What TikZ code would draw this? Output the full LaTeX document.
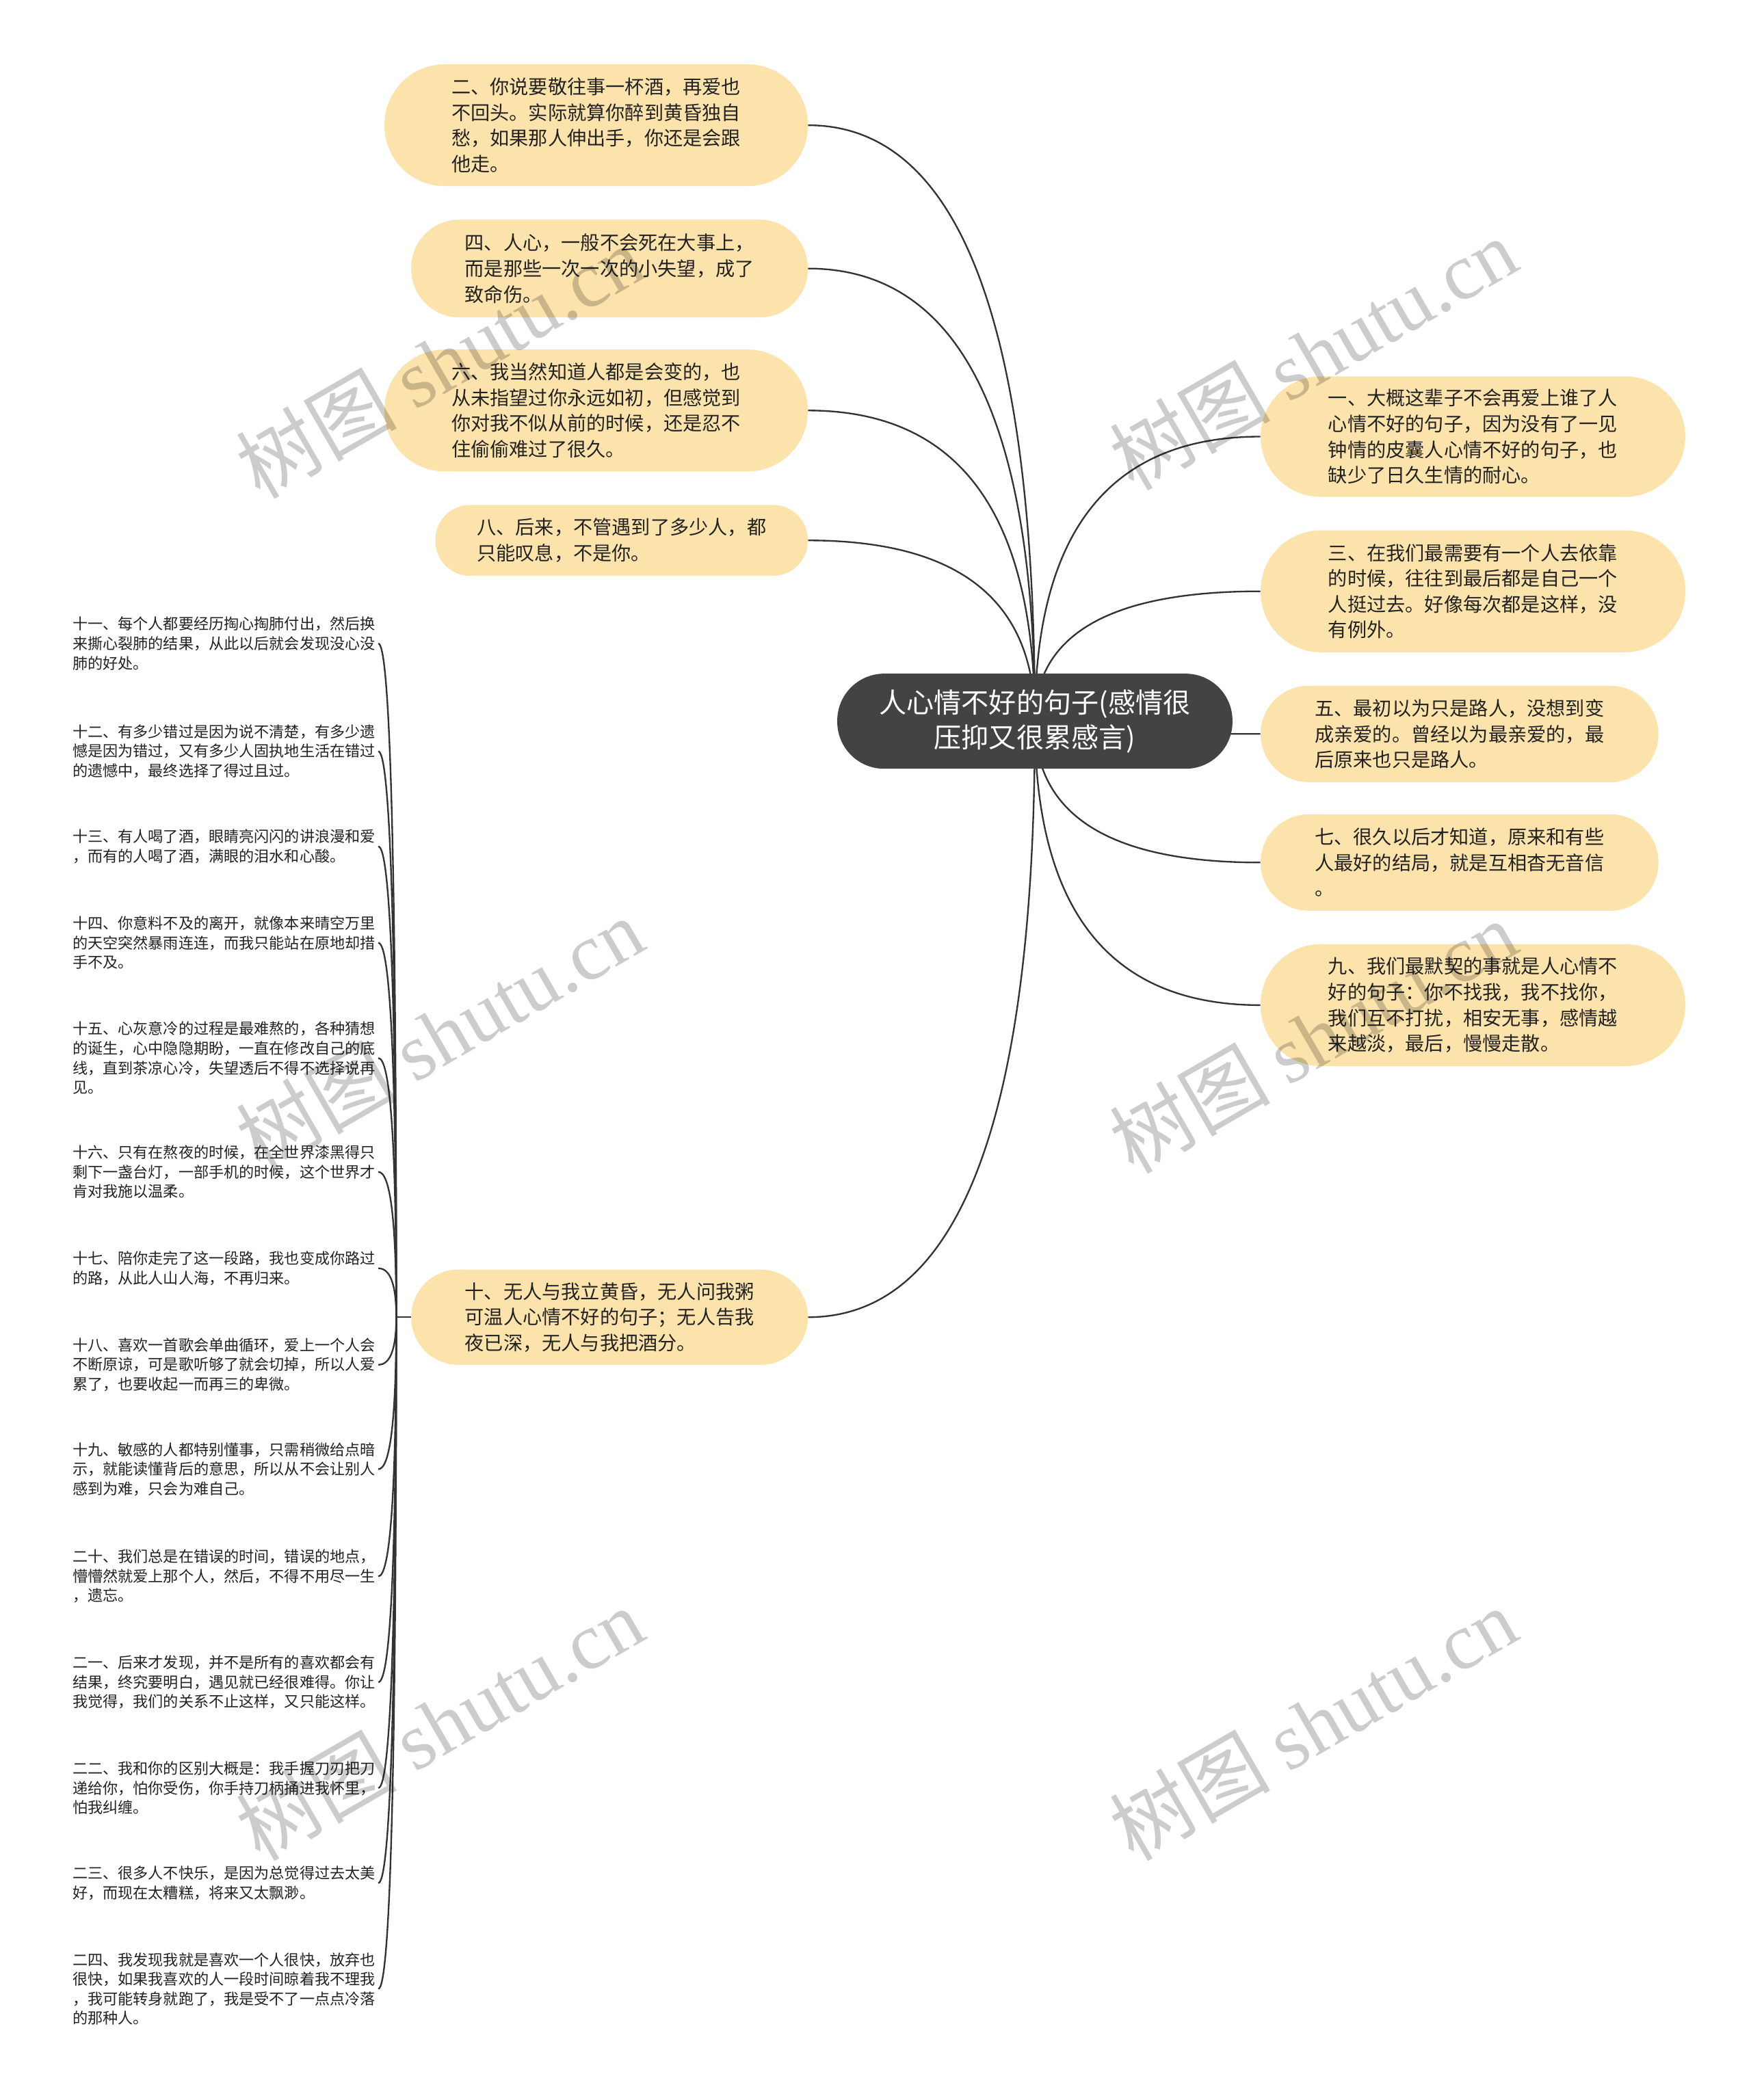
\documentclass[tikz,border=0pt]{standalone}
\usepackage{fontspec}
\setmainfont{Noto Sans CJK SC}
\newfontfamily\wmserif{Liberation Serif}
\usetikzlibrary{backgrounds,calc}
\definecolor{nodefill}{HTML}{FCE3AB}
\definecolor{rootfill}{HTML}{434343}
\definecolor{linecol}{HTML}{333333}
\definecolor{txt}{HTML}{222222}
\begin{document}
\begin{tikzpicture}[x=1pt,y=-1pt,
  bignode/.style={fill=nodefill, text=txt, inner sep=0pt, align=left, font=\fontsize{14.4pt}{19.2pt}\selectfont},
  rootnode/.style={fill=rootfill, text=white, inner sep=0pt, align=center, minimum width=295pt, minimum height=71pt, rounded corners=35pt, font=\fontsize{20.5pt}{26pt}\selectfont},
  smallnode/.style={text=txt, inner xsep=2pt, inner ysep=0pt, text width=226pt, align=left, anchor=west, font=\fontsize{11.3pt}{14.6pt}\selectfont},
  conn/.style={draw=linecol, line width=1.2pt},
  wm/.style={text=black, text opacity=0.2, rotate=30, inner sep=0pt, font=\fontsize{60pt}{60pt}\selectfont}
]
\useasboundingbox (0,0) rectangle (1307,1568);
\begin{pgfonlayer}{background}
\fill[white] (0,0) rectangle (1307,1568);
\end{pgfonlayer}

% root
\node[rootnode] (root) at (772.5,538.5) {人心情不好的句子(感情很\\压抑又很累感言)};

% left main nodes
\node[bignode, minimum width=316pt, minimum height=91pt, rounded corners=45pt] (n2) at (445,93.5)
 {二、你说要敬往事一杯酒，再爱也\\不回头。实际就算你醉到黄昏独自\\愁，如果那人伸出手，你还是会跟\\他走。};
\node[bignode, minimum width=296pt, minimum height=73pt, rounded corners=36pt] (n4) at (455,200.5)
 {四、人心，一般不会死在大事上，\\而是那些一次一次的小失望，成了\\致命伤。};
\node[bignode, minimum width=316pt, minimum height=91pt, rounded corners=45pt] (n6) at (445,306.5)
 {六、我当然知道人都是会变的，也\\从未指望过你永远如初，但感觉到\\你对我不似从前的时候，还是忍不\\住偷偷难过了很久。};
\node[bignode, minimum width=278pt, minimum height=53pt, rounded corners=26pt] (n8) at (464,403.5)
 {八、后来，不管遇到了多少人，都\\只能叹息，不是你。};
\node[bignode, minimum width=296pt, minimum height=71pt, rounded corners=35pt] (n10) at (455,983.5)
 {十、无人与我立黄昏，无人问我粥\\可温人心情不好的句子；无人告我\\夜已深，无人与我把酒分。};

% right main nodes
\node[bignode, minimum width=317pt, minimum height=90pt, rounded corners=45pt] (n1) at (1099.5,326)
 {一、大概这辈子不会再爱上谁了人\\心情不好的句子，因为没有了一见\\钟情的皮囊人心情不好的句子，也\\缺少了日久生情的耐心。};
\node[bignode, minimum width=317pt, minimum height=91pt, rounded corners=45pt] (n3) at (1099.5,441.5)
 {三、在我们最需要有一个人去依靠\\的时候，往往到最后都是自己一个\\人挺过去。好像每次都是这样，没\\有例外。};
\node[bignode, minimum width=297pt, minimum height=72pt, rounded corners=36pt] (n5) at (1089.5,548)
 {五、最初以为只是路人，没想到变\\成亲爱的。曾经以为最亲爱的，最\\后原来也只是路人。};
\node[bignode, minimum width=297pt, minimum height=72pt, rounded corners=36pt] (n7) at (1089.5,644)
 {七、很久以后才知道，原来和有些\\人最好的结局，就是互相杳无音信\\。};
\node[bignode, minimum width=317pt, minimum height=91pt, rounded corners=45pt] (n9) at (1099.5,750.5)
 {九、我们最默契的事就是人心情不\\好的句子：你不找我，我不找你，\\我们互不打扰，相安无事，感情越\\来越淡，最后，慢慢走散。};

% small items
\node[smallnode] (s11) at (52,480.5) {十一、每个人都要经历掏心掏肺付出，然后换\\来撕心裂肺的结果，从此以后就会发现没心没\\肺的好处。};
\node[smallnode] (s12) at (52,561) {十二、有多少错过是因为说不清楚，有多少遗\\憾是因为错过，又有多少人固执地生活在错过\\的遗憾中，最终选择了得过且过。};
\node[smallnode] (s13) at (52,632) {十三、有人喝了酒，眼睛亮闪闪的讲浪漫和爱\\，而有的人喝了酒，满眼的泪水和心酸。};
\node[smallnode] (s14) at (52,704) {十四、你意料不及的离开，就像本来晴空万里\\的天空突然暴雨连连，而我只能站在原地却措\\手不及。};
\node[smallnode] (s15) at (52,790) {十五、心灰意冷的过程是最难熬的，各种猜想\\的诞生，心中隐隐期盼，一直在修改自己的底\\线，直到茶凉心冷，失望透后不得不选择说再\\见。};
\node[smallnode] (s16) at (52,875) {十六、只有在熬夜的时候，在全世界漆黑得只\\剩下一盏台灯，一部手机的时候，这个世界才\\肯对我施以温柔。};
\node[smallnode] (s17) at (52,947) {十七、陪你走完了这一段路，我也变成你路过\\的路，从此人山人海，不再归来。};
\node[smallnode] (s18) at (52,1019) {十八、喜欢一首歌会单曲循环，爱上一个人会\\不断原谅，可是歌听够了就会切掉，所以人爱\\累了，也要收起一而再三的卑微。};
\node[smallnode] (s19) at (52,1097) {十九、敏感的人都特别懂事，只需稍微给点暗\\示，就能读懂背后的意思，所以从不会让别人\\感到为难，只会为难自己。};
\node[smallnode] (s20) at (52,1177) {二十、我们总是在错误的时间，错误的地点，\\懵懵然就爱上那个人，然后，不得不用尽一生\\，遗忘。};
\node[smallnode] (s21) at (52,1256) {二一、后来才发现，并不是所有的喜欢都会有\\结果，终究要明白，遇见就已经很难得。你让\\我觉得，我们的关系不止这样，又只能这样。};
\node[smallnode] (s22) at (52,1335) {二二、我和你的区别大概是：我手握刀刃把刀\\递给你，怕你受伤，你手持刀柄捅进我怀里，\\怕我纠缠。};
\node[smallnode] (s23) at (52,1406) {二三、很多人不快乐，是因为总觉得过去太美\\好，而现在太糟糕，将来又太飘渺。};
\node[smallnode] (s24) at (52,1485) {二四、我发现我就是喜欢一个人很快，放弃也\\很快，如果我喜欢的人一段时间晾着我不理我\\，我可能转身就跑了，我是受不了一点点冷落\\的那种人。};

\coordinate (hub) at ($(n10.west)+(-11,0)$);

\begin{pgfonlayer}{background}
\foreach \c in {n2,n4,n6,n8,n10} {
  \draw[conn] (root.center) .. controls ($(root.center)!0.667!(root.center |- \c.east)$) and ($(\c.east)!0.667!(root.center |- \c.east)$) .. (\c.east);
}
\foreach \c in {n1,n3,n5,n7,n9} {
  \draw[conn] (root.center) .. controls ($(root.center)!0.667!(root.center |- \c.west)$) and ($(\c.west)!0.667!(root.center |- \c.west)$) .. (\c.west);
}
\draw[conn] (n10.west) -- (hub);
\foreach \s in {s11,s12,s13,s14,s15,s16,s17,s18,s19,s20,s21,s22,s23,s24} {
  \draw[conn] (\s.east) .. controls ($(\s.east)!0.667!(\s.east -| hub)$) and ($(hub)!0.667!(\s.east -| hub)$) .. (hub);
}
\end{pgfonlayer}

% watermarks
\node[wm] (w1) at (328,270) {树图 {\wmserif shutu.cn}};
\node[wm] (w2) at (980,264) {树图 {\wmserif shutu.cn}};
\node[wm] (w3) at (328,772) {树图 {\wmserif shutu.cn}};
\node[wm] (w4) at (980,774) {树图 {\wmserif shutu.cn}};
\node[wm] (w5) at (328,1287) {树图 {\wmserif shutu.cn}};
\node[wm] (w6) at (980,1287) {树图 {\wmserif shutu.cn}};
\end{tikzpicture}
\end{document}
